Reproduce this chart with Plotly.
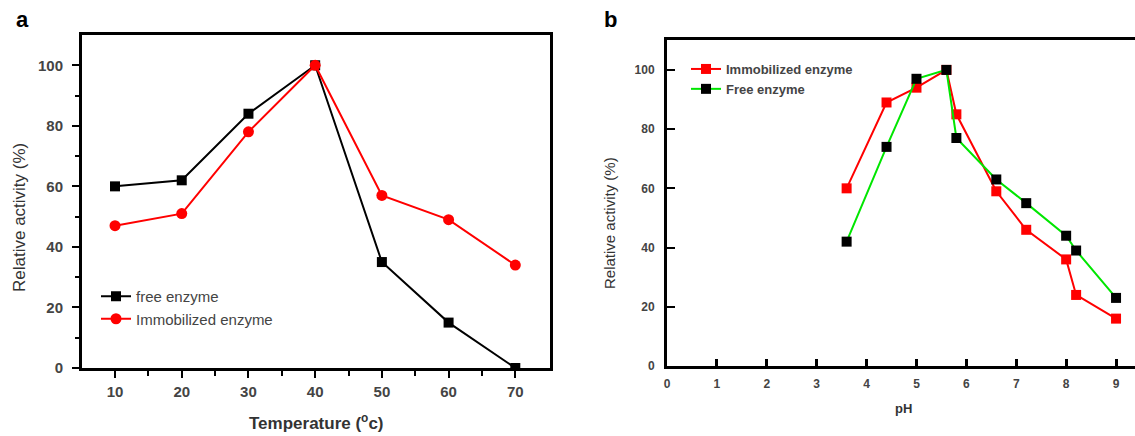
import plotly.graph_objects as go

# Panel a: temperature
temp = [10, 20, 30, 40, 50, 60, 70]
temp_free = [60, 62, 84, 100, 35, 15, 0]
temp_immob = [47, 51, 78, 100, 57, 49, 34]

# Panel b: pH
ph = [3.6, 4.4, 5.0, 5.6, 5.8, 6.6, 7.2, 8.0, 8.2, 9.0]
ph_immob = [60, 89, 94, 100, 85, 59, 46, 36, 24, 16]
ph_free = [42, 74, 97, 100, 77, 63, 55, 44, 39, 23]

W, H = 1135, 436
FONT = "Liberation Sans, Arial, sans-serif"

fig = go.Figure()

fig.add_trace(go.Scatter(x=temp, y=temp_free, mode="lines+markers", name="free enzyme",
                         line=dict(color="black", width=2),
                         marker=dict(symbol="square", size=10, color="black"),
                         xaxis="x", yaxis="y", legend="legend"))
fig.add_trace(go.Scatter(x=temp, y=temp_immob, mode="lines+markers", name="Immobilized enzyme",
                         line=dict(color="#ff0000", width=2),
                         marker=dict(symbol="circle", size=11, color="#ff0000"),
                         xaxis="x", yaxis="y", legend="legend"))

fig.add_trace(go.Scatter(x=ph, y=ph_immob, mode="lines+markers", name="Immobilized enzyme",
                         line=dict(color="#ff0000", width=2),
                         marker=dict(symbol="square", size=10, color="#ff0000"),
                         xaxis="x2", yaxis="y2", legend="legend2"))
fig.add_trace(go.Scatter(x=ph, y=ph_free, mode="lines+markers", name="Free enzyme",
                         line=dict(color="#00e600", width=2),
                         marker=dict(symbol="square", size=10, color="black"),
                         xaxis="x2", yaxis="y2", legend="legend2"))

tickfont_a = dict(family=FONT, size=15, color="#444444", weight="bold")
tickfont_b = dict(family=FONT, size=12, color="#444444", weight="bold")

fig.update_layout(
    width=W, height=H,
    margin=dict(l=0, r=0, t=0, b=0),
    plot_bgcolor="white", paper_bgcolor="white",
    xaxis=dict(domain=[82 / W, 550 / W], range=[5.05, 75.2], tickvals=[10, 20, 30, 40, 50, 60, 70],
               ticks="outside", ticklen=7, tickwidth=2, tickcolor="black", ticklabelstandoff=1,
               minor=dict(tickvals=[15, 25, 35, 45, 55, 65], ticks="outside", ticklen=5, tickwidth=2, tickcolor="black"),
               showline=True, linecolor="black", linewidth=3, mirror=True, automargin=False,
               showgrid=False, zeroline=False, tickfont=tickfont_a, anchor="y"),
    yaxis=dict(domain=[68 / H, 401 / H], range=[0, 110], tickvals=[0, 20, 40, 60, 80, 100],
               ticks="outside", ticklen=7, tickwidth=2, tickcolor="black", ticklabelstandoff=6,
               minor=dict(tickvals=[10, 30, 50, 70, 90], ticks="outside", ticklen=4, tickwidth=2, tickcolor="black"),
               showline=True, linecolor="black", linewidth=3, mirror=True, automargin=False,
               showgrid=False, zeroline=False, tickfont=tickfont_a, anchor="x"),
    xaxis2=dict(domain=[667 / W, 1.0], range=[0, 9.38], tickvals=list(range(10)),
                ticks="inside", ticklen=7, tickwidth=3, tickcolor="black", ticklabelstandoff=5,
                showline=True, linecolor="black", linewidth=3, mirror=True, automargin=False,
                showgrid=False, zeroline=False, tickfont=tickfont_b, anchor="y2"),
    yaxis2=dict(domain=[70 / H, 396 / H], range=[0, 110.1], tickvals=[0, 20, 40, 60, 80, 100],
                ticks="inside", ticklen=8, tickwidth=2, tickcolor="black", ticklabelstandoff=7,
                showline=True, linecolor="black", linewidth=3, mirror=False, automargin=False,
                showgrid=False, zeroline=False, tickfont=tickfont_b, anchor="x2"),
    legend=dict(x=96 / W, y=1 - 280 / H, xanchor="left", yanchor="top",
                bgcolor="rgba(0,0,0,0)", tracegroupgap=0, itemwidth=30,
                font=dict(family=FONT, size=15, color="#444444")),
    legend2=dict(x=686 / W, y=1 - 54 / H, xanchor="left", yanchor="top",
                 bgcolor="rgba(0,0,0,0)", tracegroupgap=0, itemwidth=30,
                 font=dict(family=FONT, size=13, color="#444444", weight="bold")),
    showlegend=True,
    annotations=[
        dict(text="a", x=22 / W, y=1 - 19 / H, xref="paper", yref="paper", showarrow=False,
             xanchor="center", yanchor="middle", font=dict(family=FONT, size=22, color="black", weight="bold")),
        dict(text="b", x=610 / W, y=1 - 20 / H, xref="paper", yref="paper", showarrow=False,
             xanchor="center", yanchor="middle", font=dict(family=FONT, size=22, color="black", weight="bold")),
        dict(text="Relative activity (%)", x=19 / W, y=1 - 218 / H, xref="paper", yref="paper",
             showarrow=False, textangle=-90, xanchor="center", yanchor="middle",
             font=dict(family=FONT, size=17, color="#333333")),
        dict(text="Temperature (<sup>o</sup>c)", x=316 / W, y=1 - 422 / H, xref="paper", yref="paper",
             showarrow=False, xanchor="center", yanchor="middle",
             font=dict(family=FONT, size=17, color="#333333", weight="bold")),
        dict(text="Relative activity (%)", x=609 / W, y=1 - 223 / H, xref="paper", yref="paper",
             showarrow=False, textangle=-90, xanchor="center", yanchor="middle",
             font=dict(family=FONT, size=15, color="#333333")),
        dict(text="pH", x=903 / W, y=1 - 408 / H, xref="paper", yref="paper",
             showarrow=False, xanchor="center", yanchor="middle",
             font=dict(family=FONT, size=13, color="#333333", weight="bold")),
    ],
)

fig.write_html("out.html")
